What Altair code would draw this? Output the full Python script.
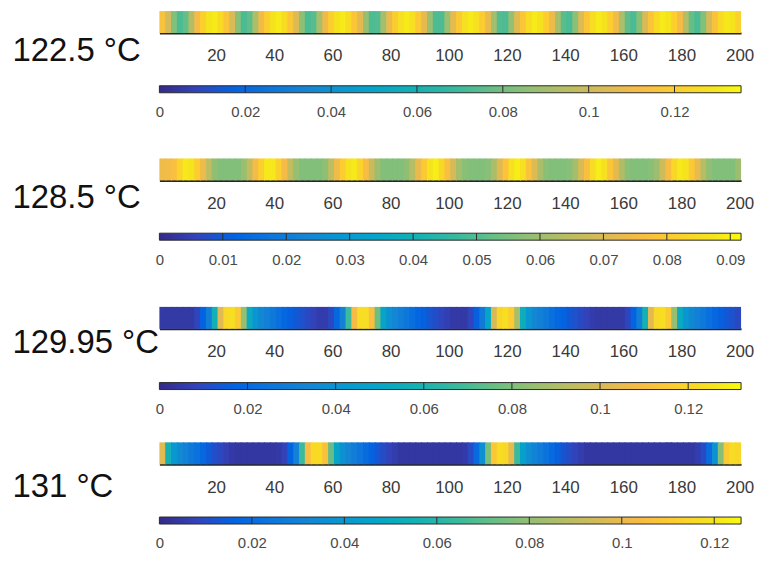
import altair as alt
import numpy as np
import pandas as pd

# ---- data ----
labels = ["122.5 °C", "128.5 °C", "129.95 °C", "131 °C"]
cmax = [0.1355, 0.0917, 0.132, 0.1258]
cticks = [
    [0, 0.02, 0.04, 0.06, 0.08, 0.1, 0.12],
    [0, 0.01, 0.02, 0.03, 0.04, 0.05, 0.06, 0.07, 0.08, 0.09],
    [0, 0.02, 0.04, 0.06, 0.08, 0.1, 0.12],
    [0, 0.02, 0.04, 0.06, 0.08, 0.1, 0.12],
]
x_ticks = [20, 40, 60, 80, 100, 120, 140, 160, 180, 200]
cell_left = np.arange(0.5, 200.5, 2.0)   # pixel positions 1..200, 2 per cell

# profile values (x 1/1000)
v1 = [115,102,83,72,77,94,111,121,129,131,
      125,116,103,84,72,76,92,110,120,128,
      131,126,117,104,85,72,75,91,109,120,
      128,131,126,117,106,87,73,74,90,108,
      119,127,131,127,118,107,88,73,73,88,
      107,118,127,131,127,119,108,90,74,73,
      87,106,117,126,131,128,120,109,91,75,
      72,85,104,117,126,131,128,120,110,92,
      76,72,84,103,116,125,131,129,121,111,
      94,77,72,83,102,115,125,130,129,122]
v2 = [74,75,77,83,88,87,81,74,65,58,
      56,56,56,56,59,66,75,82,88,88,
      82,75,66,59,56,56,56,56,58,65,
      74,81,87,88,83,76,67,60,56,56,
      56,56,58,64,73,80,87,89,84,77,
      69,61,57,56,56,56,57,62,71,78,
      86,89,86,78,71,62,57,56,56,56,
      57,61,70,77,85,89,86,79,72,63,
      57,56,56,56,57,60,68,76,84,88,
      87,80,73,64,58,56,56,56,56,60]
v3 = [5,5,5,5,5,5,9,17,30,58,
      103,121,124,115,85,53,41,35,31,27,
      23,19,16,14,12,10,8,6,6,10,
      19,32,68,109,123,123,111,77,49,39,
      34,30,26,22,18,16,13,11,9,7,
      5,5,5,9,16,28,49,100,120,124,
      116,89,55,41,35,31,27,23,19,17,
      14,12,10,8,6,5,5,5,5,5,
      9,17,30,58,103,121,124,115,85,53,
      41,35,31,27,23,19,16,14,12,10]
v4 = [98,55,40,34,30,26,22,18,14,11,
      9,7,5,4,4,4,4,4,4,4,
      5,8,16,30,64,104,116,116,106,72,
      47,37,32,28,24,20,16,13,10,8,
      6,4,4,4,4,4,4,4,4,4,
      4,4,5,10,19,36,76,109,117,115,
      99,64,44,36,31,27,23,19,15,12,
      10,8,6,4,4,4,4,4,4,4,
      4,4,4,4,4,4,4,4,4,4,
      4,4,6,10,20,37,78,110,117,115]
values = [v1, v2, v3, v4]

# ---- style ----
parula = ["#352a87", "#3243ba", "#0363e1", "#0d75dc", "#1485d4", "#0998d1",
          "#06a7c6", "#16b1b4", "#38b99e", "#65be86", "#92bf73", "#b7bd64",
          "#d9ba56", "#f8bb44", "#fcce2e", "#f5e41d", "#f9fb0e"]
offsets = [i * 4 / 63 for i in range(16)] + [1.0]
FONT = "Liberation Sans"
title_y = [40, 39, 36, 44]
W = 584
# vertical gaps (px) between strip -> colorbar -> next strip
gap_strip_bar = [53, 53, 54, 53]
gap_bar_strip = [66, 67, 53]


def strip(vals, vmax, label, ty):
    # cells overlap slightly so that no anti-aliasing seams show between them
    df = pd.DataFrame({"x0": cell_left,
                       "x1": np.minimum(cell_left + 2.35, 200.5),
                       "v": np.array(vals) / 1000.0, "row": "a"})
    cscale = alt.Scale(domain=[vmax * o for o in offsets], range=parula,
                       interpolate="rgb")
    return alt.Chart(df).mark_rect(strokeWidth=0).encode(
        x=alt.X("x0:Q",
                scale=alt.Scale(domain=[0.5, 200.5], nice=False, zero=False),
                axis=alt.Axis(values=x_ticks, title=None, ticks=False, tickSize=0,
                              labelPadding=15, labelFontSize=17, labelColor="#3a3a3a",
                              labelFont=FONT, domainColor="#262626", domainWidth=2,
                              grid=False, labelFlush=False)),
        x2="x1:Q",
        y=alt.Y("row:N", scale=alt.Scale(paddingInner=0, paddingOuter=0),
                axis=alt.Axis(title=label, labels=False, ticks=False, domain=False,
                              grid=False, titleAngle=0, titleAlign="left",
                              titleBaseline="middle", titleX=-148, titleY=ty,
                              titleFontSize=33, titleFontWeight="normal",
                              titleColor="#111111", titleFont=FONT)),
        color=alt.Color("v:Q", scale=cscale, legend=None),
    ).properties(width=W, height=22)


def colorbar(vmax, ticks):
    bar = pd.DataFrame({"lo": [0.0], "hi": [vmax]})
    tk = pd.DataFrame({"t": [t for t in ticks if t > 0]})
    xs = alt.Scale(domain=[0, vmax], nice=False, zero=False)
    grad = alt.Gradient(gradient="linear", x1=0, x2=1, y1=0, y2=0,
                        stops=[alt.GradientStop(offset=o, color=c)
                               for o, c in zip(offsets, parula)])
    rect = alt.Chart(bar).mark_rect(fill=grad, stroke="#2a2a2a", strokeWidth=1).encode(
        x=alt.X("lo:Q", scale=xs,
                axis=alt.Axis(values=ticks, format="~g", title=None, ticks=False,
                              tickSize=0, domain=False, grid=False, labelPadding=12,
                              labelFontSize=15, labelColor="#4a4a4a", labelFont=FONT,
                              labelFlush=False, labelOverlap=False)),
        x2="hi:Q",
    )
    rules = alt.Chart(tk).mark_rule(color="#2a2a2a", strokeWidth=1).encode(
        x=alt.X("t:Q", scale=xs)
    )
    return alt.layer(rect, rules).properties(width=W, height=7)


def spacer(h):
    return alt.Chart(pd.DataFrame({"s": [0]})).mark_point(opacity=0).encode(
        x=alt.X("s:Q", axis=None), y=alt.Y("s:Q", axis=None)
    ).properties(width=W, height=h)


rows = []
for i in range(4):
    rows.append(strip(values[i], cmax[i], labels[i], title_y[i]))
    rows.append(spacer(gap_strip_bar[i]))
    rows.append(colorbar(cmax[i], cticks[i]))
    if i < 3:
        rows.append(spacer(gap_bar_strip[i]))

chart = alt.vconcat(*rows, spacing=0, bounds="flush").resolve_scale(
    color="independent", x="independent", y="independent"
).properties(
    padding={"left": 4, "top": 2, "right": 0, "bottom": 0},
    background="white",
).configure_view(stroke=None)

chart.save("out.html", embed_options={"renderer": "svg", "actions": False})
